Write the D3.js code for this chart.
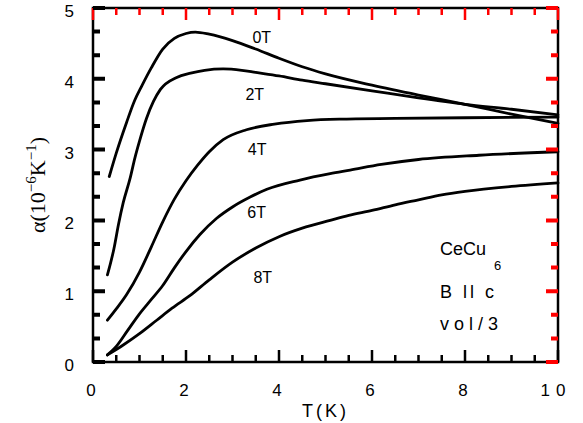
<!DOCTYPE html>
<html>
<head>
<meta charset="utf-8">
<script src="https://cdn.jsdelivr.net/npm/d3@7"></script>
<style>
  body { margin: 0; background: #fff; }
</style>
</head>
<body>
<svg></svg>
<script>
// field labels
const fields = ["0T", "2T", "4T", "6T", "8T"];

// 0 T
const temp0 = [0.35, 0.5, 0.72, 0.9, 1.05, 1.25, 1.5, 1.75, 2.0, 2.2, 2.5, 3.0, 3.5, 4.0, 4.5, 5.0, 6.0, 7.0, 8.0, 9.0, 10.0];
const alpha0 = [2.62, 2.95, 3.38, 3.7, 3.9, 4.15, 4.42, 4.57, 4.64, 4.66, 4.63, 4.54, 4.42, 4.29, 4.17, 4.07, 3.91, 3.77, 3.64, 3.5, 3.37];

// 2 T
const temp2 = [0.31, 0.45, 0.55, 0.65, 0.8, 0.9, 1.0, 1.15, 1.3, 1.45, 1.8, 2.1, 2.4, 2.8, 3.2, 3.5, 4.0, 4.5, 5.0, 6.0, 7.0, 8.0, 9.0, 10.0];
const alpha2 = [1.23, 1.6, 1.95, 2.25, 2.6, 2.88, 3.12, 3.44, 3.68, 3.85, 4.02, 4.08, 4.12, 4.14, 4.12, 4.09, 4.04, 3.98, 3.93, 3.83, 3.73, 3.64, 3.57, 3.49];

// 4 T
const temp4 = [0.31, 0.5, 0.72, 1.0, 1.25, 1.5, 1.75, 2.0, 2.25, 2.5, 2.8, 3.3, 3.9, 4.6, 5.3, 6.5, 8.0, 10.0];
const alpha4 = [0.59, 0.75, 0.95, 1.27, 1.62, 1.98, 2.3, 2.56, 2.78, 2.97, 3.14, 3.28, 3.36, 3.41, 3.43, 3.44, 3.45, 3.46];

// 6 T
const temp6 = [0.31, 0.5, 0.75, 1.0, 1.25, 1.5, 1.75, 2.0, 2.3, 2.66, 3.0, 3.38, 3.74, 4.45, 5.1, 5.53, 6.2, 7.0, 8.3, 10.0];
const alpha6 = [0.1, 0.22, 0.45, 0.68, 0.88, 1.08, 1.33, 1.56, 1.8, 2.03, 2.19, 2.33, 2.44, 2.57, 2.66, 2.71, 2.79, 2.86, 2.92, 2.97];

// 8 T
const temp8 = [0.31, 0.65, 1.0, 1.37, 1.7, 2.09, 2.5, 3.0, 3.5, 4.0, 4.5, 5.1, 5.5, 6.0, 6.5, 7.0, 7.5, 8.0, 9.0, 10.0];
const alpha8 = [0.1, 0.24, 0.4, 0.59, 0.76, 0.94, 1.16, 1.41, 1.61, 1.77, 1.89, 2.0, 2.07, 2.14, 2.22, 2.29, 2.36, 2.41, 2.48, 2.53];

const temps = [temp0, temp2, temp4, temp6, temp8];
const alphas = [alpha0, alpha2, alpha4, alpha6, alpha8];

// tick labels
const xTicks = [0, 2, 4, 6, 8, 10];
const xTickLabels = ["0", "2", "4", "6", "8", "10"];
const yTicks = [0, 1, 2, 3, 4, 5];
const yTickLabels = ["0", "1", "2", "3", "4", "5"];

const W = 583, H = 423;
const margin = {top: 8, right: 25, bottom: 61, left: 93};
const sans = '"Liberation Sans", Arial, sans-serif';

const svg = d3.select('svg').attr('width', W).attr('height', H);

const x = d3.scaleLinear().domain([0, 10]).range([margin.left, W - margin.right]);
const y = d3.scaleLinear().domain([0, 5]).range([H - margin.bottom, margin.top]);

const y0 = H - margin.bottom, x1 = W - margin.right;

// frame
svg.append('rect')
  .attr('x', margin.left).attr('y', margin.top)
  .attr('width', x1 - margin.left).attr('height', y0 - margin.top)
  .attr('fill', 'none').attr('stroke', '#000').attr('stroke-width', 2.5);

// tick labels
svg.selectAll('.xlab').data(xTicks).enter().append('text')
  .attr('x', d => x(d) - 2)
  .attr('y', 396)
  .attr('text-anchor', 'middle')
  .style('font-family', sans)
  .style('font-size', '17px')
  .style('letter-spacing', (d, i) => xTickLabels[i].length > 1 ? '6px' : '0px')
  .text((d, i) => xTickLabels[i]);

svg.selectAll('.ylab').data(yTicks).enter().append('text')
  .attr('x', 74)
  .attr('y', d => y(d) + 9)
  .attr('text-anchor', 'end')
  .style('font-family', sans)
  .style('font-size', '17px')
  .text((d, i) => yTickLabels[i]);

// axis titles
svg.append('text')
  .attr('x', x(5)).attr('y', 417)
  .attr('text-anchor', 'middle')
  .style('font-family', sans)
  .style('font-size', '18px')
  .style('letter-spacing', '3px')
  .text('T(K)');

const yTitle = svg.append('text')
  .attr('transform', `translate(45,${(margin.top + y0) / 2}) rotate(-90)`)
  .attr('text-anchor', 'middle')
  .attr('fill', '#000')
  .style('font-family', '"Liberation Serif", "Times New Roman", serif')
  .style('font-size', '22px');
yTitle.append('tspan').text('α(10');
yTitle.append('tspan').attr('dy', -9).style('font-size', '15px').text('−6');
yTitle.append('tspan').attr('dy', 9).text('K');
yTitle.append('tspan').attr('dy', -9).style('font-size', '15px').text('−1');
yTitle.append('tspan').attr('dy', 9).text(')');

// curves
const line = d3.line()
  .x(d => x(d[0]))
  .y(d => y(d[1]))
  .curve(d3.curveMonotoneX);

temps.forEach((ts, k) => {
  const pts = ts.map((t, i) => [t, alphas[k][i]]);
  svg.append('path')
    .datum(pts)
    .attr('d', line)
    .attr('fill', 'none')
    .attr('stroke', '#000')
    .attr('stroke-width', 2.8)
    .attr('stroke-linecap', 'round');
});

// curve labels
const labelPos = [[3.63, 4.5], [3.48, 3.7], [3.53, 2.92], [3.52, 2.03], [3.65, 1.12]];
fields.forEach((f, k) => {
  svg.append('text')
    .attr('x', x(labelPos[k][0]))
    .attr('y', y(labelPos[k][1]))
    .attr('text-anchor', 'middle')
    .style('font-family', sans)
    .style('font-size', '16px')
    .text(f);
});

// sample notes
const note = svg.append('text').attr('x', 440).attr('y', 255)
  .style('font-family', sans).style('font-size', '18px');
note.append('tspan').text('CeCu');
note.append('tspan').attr('dx', 8).attr('dy', 15).style('font-size', '13px').text('6');

svg.append('text').attr('x', 440).attr('y', 298)
  .style('font-family', sans).style('font-size', '18px').style('letter-spacing', '3px').text('B ll c');
svg.append('text').attr('x', 440).attr('y', 330)
  .style('font-family', sans).style('font-size', '18px').style('letter-spacing', '5px').text('vol/3');

// inward ticks, minor every 0.5 K and every 1/3 unit
const xMinor = [0.5, 1, 1.5, 2.5, 3, 3.5, 4.5, 5, 5.5, 6.5, 7, 7.5, 8.5, 9, 9.5];
const yMinor = [1, 2, 4, 5, 7, 8, 10, 11, 13, 14].map(i => i / 3);

// bottom: black 2.5, top: red 2.5, left: black 4, right: red 4
let dBottom = '', dTop = '', dLeft = '', dRight = '';
xTicks.forEach(v => { dBottom += `M${x(v)},${y0}V${y0 - 12}`; dTop += `M${x(v)},${margin.top}V${margin.top + 12}`; });
xMinor.forEach(v => { dBottom += `M${x(v)},${y0}V${y0 - 7}`; dTop += `M${x(v)},${margin.top}V${margin.top + 7}`; });
yTicks.forEach(v => { dLeft += `M${margin.left},${y(v)}H${margin.left + 12}`; dRight += `M${x1},${y(v)}H${x1 - 12}`; });
yMinor.forEach(v => { dLeft += `M${margin.left},${y(v)}H${margin.left + 7}`; dRight += `M${x1},${y(v)}H${x1 - 7}`; });

svg.append('path').attr('d', dBottom).attr('stroke', '#000').attr('stroke-width', 2.5);
svg.append('path').attr('d', dTop).attr('stroke', 'red').attr('stroke-width', 2.5);
svg.append('path').attr('d', dLeft).attr('stroke', '#000').attr('stroke-width', 4);
svg.append('path').attr('d', dRight).attr('stroke', 'red').attr('stroke-width', 4);
</script>
</body>
</html>
